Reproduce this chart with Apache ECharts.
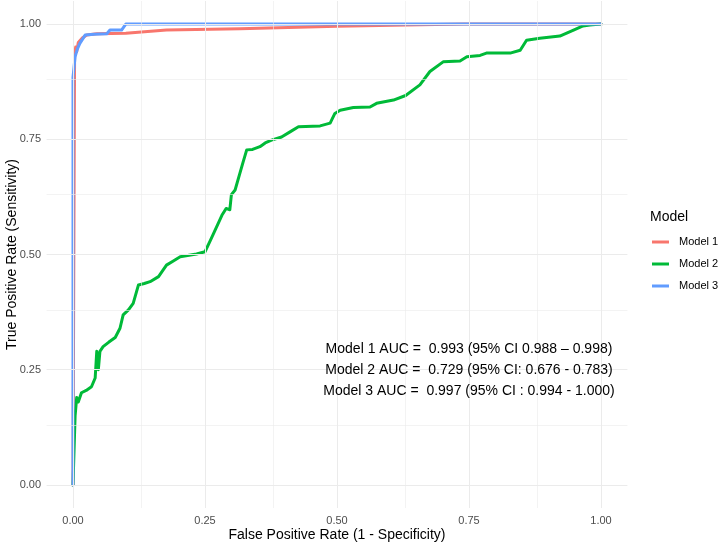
<!DOCTYPE html>
<html>
<head>
<meta charset="utf-8">
<script src="https://cdn.jsdelivr.net/npm/echarts@6/dist/echarts.min.js"></script>
<style>
html,body{margin:0;padding:0;background:#fff;}
#roc-chart{width:720px;height:543px;}
</style>
</head>
<body>
<div id="roc-chart"></div>
<script>
// ROC 曲线数据
var seriesNames = ['Model 1', 'Model 2', 'Model 3'];
var seriesColors = ['#F8766D', '#00BA38', '#619CFF'];

var m1Fpr = [0, 0.003, 0.005, 0.007, 0.010, 0.018, 0.026, 0.045, 0.100, 0.177, 0.316, 0.500, 0.740, 1];
var m1Tpr = [0, 0.930, 0.950, 0.940, 0.960, 0.970, 0.976, 0.979, 0.980, 0.987, 0.990, 0.995, 1.000, 1];

var m2Fpr = [0, 0.004, 0.007, 0.010, 0.016, 0.025, 0.035, 0.042, 0.045, 0.048, 0.051, 0.057, 0.068, 0.080, 0.089, 0.095,
	0.105, 0.114, 0.124, 0.135, 0.146, 0.162, 0.177, 0.190, 0.203, 0.234, 0.250, 0.260, 0.272, 0.282, 0.290, 0.297,
	0.300, 0.307, 0.316, 0.322, 0.329, 0.340, 0.354, 0.364, 0.376, 0.395, 0.411, 0.427, 0.468, 0.487, 0.496, 0.506,
	0.531, 0.5625, 0.575, 0.607, 0.630, 0.657, 0.676, 0.701, 0.733, 0.746, 0.771, 0.783, 0.828, 0.847, 0.859, 0.884,
	0.922, 0.948, 0.966, 0.979, 1];
var m2Tpr = [0, 0.150, 0.190, 0.180, 0.200, 0.205, 0.213, 0.232, 0.290, 0.250, 0.290, 0.300, 0.310, 0.320, 0.340, 0.369,
	0.380, 0.394, 0.434, 0.437, 0.441, 0.452, 0.477, 0.486, 0.495, 0.501, 0.506, 0.530, 0.560, 0.585, 0.600, 0.597,
	0.630, 0.640, 0.676, 0.700, 0.727, 0.728, 0.734, 0.742, 0.748, 0.755, 0.766, 0.777, 0.779, 0.785, 0.806, 0.813,
	0.819, 0.820, 0.828, 0.835, 0.845, 0.868, 0.897, 0.918, 0.920, 0.929, 0.932, 0.937, 0.937, 0.943, 0.965, 0.969,
	0.974, 0.987, 0.996, 0.998, 1];

var m3Fpr = [0, 0, 0.004, 0.008, 0.013, 0.023, 0.040, 0.064, 0.070, 0.092, 0.100, 1];
var m3Tpr = [0, 0.885, 0.929, 0.945, 0.958, 0.976, 0.978, 0.979, 0.987, 0.987, 1.000, 1];

var majorTicks = [0, 0.25, 0.5, 0.75, 1];
var minorTicks = [0.125, 0.375, 0.625, 0.875];

var aucLines = [
	'Model 1 AUC =  0.993 (95% CI 0.988 \u2013 0.998)',
	'Model 2 AUC =  0.729 (95% CI: 0.676 - 0.783)',
	'Model 3 AUC =  0.997 (95% CI : 0.994 - 1.000)'
];

function zip(xs, ys){
	var out = [];
	for (var i = 0; i < xs.length; i++) out.push([xs[i], ys[i]]);
	return out;
}

function rocChart(){
	var chart = echarts.init(document.getElementById('roc-chart'));
	var font = 'Liberation Sans, Arial, sans-serif';
	var allFpr = [m1Fpr, m2Fpr, m3Fpr];
	var allTpr = [m1Tpr, m2Tpr, m3Tpr];

	// 网格线
	var gridData = [];
	majorTicks.forEach(function(v){
		gridData.push({xAxis: v, lineStyle: {width: 1}});
		gridData.push({yAxis: v, lineStyle: {width: 1}});
	});
	minorTicks.forEach(function(v){
		gridData.push({xAxis: v, lineStyle: {width: 0.6}});
		gridData.push({yAxis: v, lineStyle: {width: 0.6}});
	});

	var series = [{
		name: 'grid',
		type: 'line',
		data: [],
		z: 0,
		silent: true,
		markLine: {
			silent: true,
			symbol: ['none', 'none'],
			label: {show: false},
			animation: false,
			lineStyle: {color: '#ebebeb', type: 'solid'},
			data: gridData
		}
	}];
	seriesNames.forEach(function(name, i){
		series.push({
			name: name,
			type: 'line',
			data: zip(allFpr[i], allTpr[i]),
			showSymbol: false,
			symbol: 'none',
			color: seriesColors[i],
			lineStyle: {width: 3, color: seriesColors[i], cap: 'round', join: 'round'},
			z: 2 + i
		});
	});

	var option = {
		animation: false,
		textStyle: {fontFamily: font},
		grid: {left: 46.6, right: 92.6, top: 1, bottom: 35, containLabel: false, outerBoundsMode: 'none'},
		title: {
			text: 'Model',
			left: 650,
			top: 210,
			padding: 0,
			textStyle: {fontFamily: font, fontSize: 14, fontWeight: 'normal', color: '#000'}
		},
		legend: {
			data: seriesNames,
			orient: 'vertical',
			left: 652,
			top: 235,
			padding: 0,
			icon: 'rect',
			itemWidth: 17,
			itemHeight: 3,
			itemGap: 8,
			textStyle: {fontFamily: font, fontSize: 11, color: '#000', lineHeight: 14, padding: [0, 0, 0, 5]}
		},
		xAxis: {
			type: 'value',
			min: -0.05,
			max: 1.05,
			name: 'False Positive Rate (1 - Specificity)',
			nameLocation: 'middle',
			nameGap: 20,
			nameMoveOverlap: false,
			nameTextStyle: {fontFamily: font, fontSize: 14, color: '#000'},
			axisLine: {show: false},
			axisTick: {show: false},
			splitLine: {show: false},
			axisLabel: {
				customValues: majorTicks,
				margin: 7,
				fontSize: 11,
				color: '#4d4d4d',
				formatter: function(v){ return v.toFixed(2); }
			}
		},
		yAxis: {
			type: 'value',
			min: -0.05,
			max: 1.05,
			name: 'True Positive Rate (Sensitivity)',
			nameLocation: 'middle',
			nameGap: 27,
			nameMoveOverlap: false,
			nameTextStyle: {fontFamily: font, fontSize: 14, color: '#000'},
			axisLine: {show: false},
			axisTick: {show: false},
			splitLine: {show: false},
			axisLabel: {
				customValues: majorTicks,
				margin: 5.5,
				fontSize: 11,
				color: '#4d4d4d',
				formatter: function(v){ return v.toFixed(2); }
			}
		},
		graphic: aucLines.map(function(t, i){
			return {
				type: 'text',
				x: 469,
				y: 349 + i * 21,
				z: 100,
				zlevel: 1,
				style: {text: t, font: '14px ' + font, fill: '#000', textAlign: 'center', textVerticalAlign: 'middle'}
			};
		}),
		series: series
	};

	chart.setOption(option);
}

rocChart();
</script>
</body>
</html>
